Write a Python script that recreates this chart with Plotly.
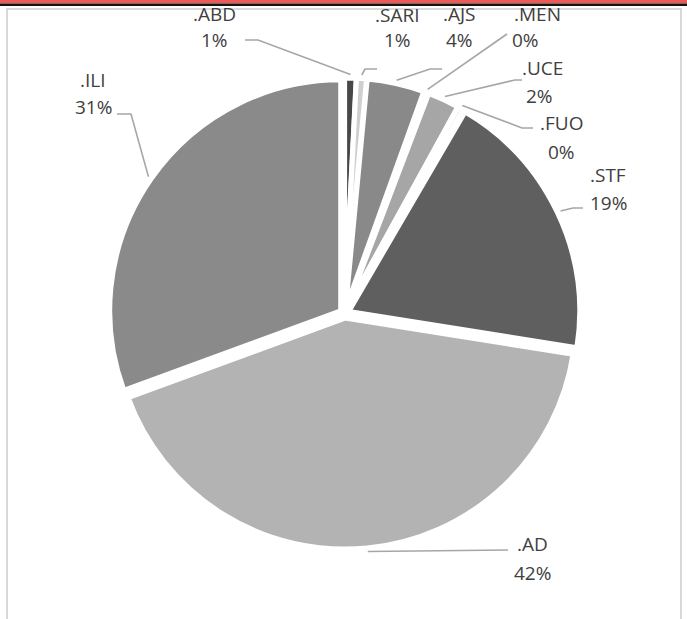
import math
import plotly.graph_objects as go

# ---- data ----
categories = ["ABD", "SARI", "AJS", "MEN", "UCE", "FUO", "STF", "AD", "ILI"]
values = [0.8, 0.7, 4.0, 0.3, 2.2, 0.4, 19.1, 41.9, 30.6]
colors = ["#474747", "#cfcfcf", "#898989", "#e6e6e6", "#a6a6a6", "#ececec",
          "#5f5f5f", "#b3b3b3", "#8a8a8a"]

# ---- layout constants (pixels) ----
W, H = 687, 619
CX, CY = 344.5, 313.5      # pie centre
R = 231.0                  # pie radius
PULL = 0.02
ANCHOR_R = R * (1 + PULL) + 3.5

# label line positions (name line, percent line)
name_pos = [(214, 14), (397, 15), (459, 14), (537, 14), (542, 68),
            (561, 123), (608, 175), (532, 544), (93, 80)]
pct_pos = [(214, 40), (397, 40), (459, 40), (525, 40), (539, 96),
           (561, 152), (608, 203), (532, 573), (93, 107)]
# leader points from label side toward the slice (anchor appended from data)
leader_pts = [
    [(245, 40), (258, 40)],
    [(377, 69), (365, 69)],
    [(442, 69), (430, 69)],
    [(507, 34)],
    [(522, 80), (515, 80)],
    [(533, 128), (522, 128)],
    [(583, 208), (573, 208)],
    [(508, 550)],
    [(117, 114), (131, 114)],
]


def px(x):
    return x / W


def py(y):
    return 1 - y / H


half = R * (1 + PULL)
fig = go.Figure(go.Pie(
    labels=categories, values=values, sort=False, direction="clockwise",
    rotation=0, pull=[PULL] * len(values), textinfo="none", hoverinfo="label+percent",
    marker=dict(colors=colors, line=dict(color="white", width=5)),
    domain=dict(x=[px(CX - half), px(CX + half)], y=[py(CY + half), py(CY - half)]),
    showlegend=False,
))

total = sum(values)
annotations = []
shapes = []
cum = 0.0
font = dict(family="Open Sans, sans-serif", size=19, color="#404040")
for i, (cat, v) in enumerate(zip(categories, values)):
    a0 = cum / total * 360
    cum += v
    a1 = cum / total * 360
    mid = math.radians((a0 + a1) / 2)
    ax = CX + ANCHOR_R * math.sin(mid)
    ay = CY - ANCHOR_R * math.cos(mid)
    pts = leader_pts[i] + [(ax, ay)]
    path = "M " + " L ".join(f"{px(x):.5f},{py(y):.5f}" for x, y in pts)
    shapes.append(dict(type="path", path=path, xref="paper", yref="paper",
                       line=dict(color="#a6a6a6", width=1.6)))
    pct = int(v / total * 100 + 0.5)
    annotations.append(dict(x=px(name_pos[i][0]), y=py(name_pos[i][1]), xref="paper",
                            yref="paper", text="." + cat, showarrow=False,
                            xanchor="center", yanchor="middle", font=font))
    annotations.append(dict(x=px(pct_pos[i][0]), y=py(pct_pos[i][1]), xref="paper",
                            yref="paper", text=f"{pct}%", showarrow=False,
                            xanchor="center", yanchor="middle", font=font))

# decorative frame and top rule
shapes.append(dict(type="rect", xref="paper", yref="paper", x0=px(7), x1=px(681),
                   y0=py(640), y1=py(9), line=dict(color="#d9d9d9", width=2),
                   layer="below"))
shapes.append(dict(type="rect", xref="paper", yref="paper", x0=0, x1=1,
                   y0=py(3.5), y1=py(0), line=dict(width=0), fillcolor="#ec5a57"))
shapes.append(dict(type="rect", xref="paper", yref="paper", x0=0, x1=1,
                   y0=py(6), y1=py(3.5), line=dict(width=0), fillcolor="#141414"))

fig.update_layout(
    width=W, height=H, margin=dict(l=0, r=0, t=0, b=0),
    paper_bgcolor="white", plot_bgcolor="white",
    annotations=annotations, shapes=shapes,
)
fig.write_html("out.html", config={"displayModeBar": False},
               post_script="document.body.style.margin='0';document.body.style.overflow='hidden';")
